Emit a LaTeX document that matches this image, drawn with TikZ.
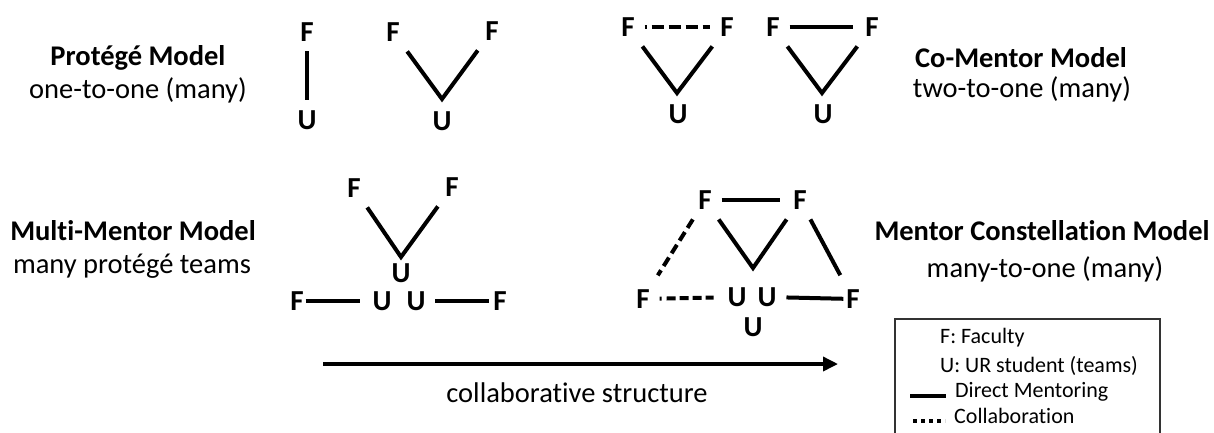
\documentclass[tikz,border=0pt]{standalone}
\usepackage{fontspec}
\setmainfont{Carlito}[Ligatures={NoCommon}]
\usetikzlibrary{arrows.meta}
\begin{document}
\begin{tikzpicture}[x=1pt,y=-1pt,
  letter/.style={font=\fontsize{29}{31}\selectfont\bfseries, inner sep=0pt, outer sep=10pt},
  title/.style={font=\fontsize{28.5}{30}\selectfont\bfseries, anchor=base, inner sep=0pt},
  sub/.style={font=\fontsize{28.5}{30}\selectfont, anchor=base, inner sep=0pt},
  legtext/.style={font=\fontsize{22}{24}\selectfont, anchor=base west, inner sep=0pt},
  mentor/.style={line width=4pt},
  collab/.style={line width=4pt, dash pattern=on 10pt off 5pt},
]
\useasboundingbox (0,0) rectangle (1214,432);

% ---------- Protege model ----------
\node[title] (pt) at (138,65) {Protégé Model};
\node[sub] (ps) at (138,98) {one-to-one (many)};
\node[letter] (a1) at (307,32) {F};
\node[letter] (a2) at (307,120) {U};
\draw[mentor] (a1) -- (a2);
\node[letter] (b1) at (393,32) {F};
\node[letter] (b2) at (492,31) {F};
\node[letter] (b3) at (442,121) {U};
\coordinate (bA) at (442,99);
\draw[mentor] (b1) -- (bA) -- (b2);

% ---------- Co-mentor model ----------
\node[letter] (c1) at (628,27) {F};
\node[letter] (c2) at (727,27) {F};
\node[letter] (c3) at (678,114) {U};
\coordinate (cA) at (677,93);
\draw[mentor] (c1) -- (cA) -- (c2);
\draw[line width=4pt, dash pattern=on 2pt off 5pt on 12pt off 5pt on 12pt off 5pt on 12pt off 5pt on 12pt off 20pt] (c1) -- (c2);
\node[letter] (d1) at (773,27) {F};
\node[letter] (d2) at (872,27) {F};
\node[letter] (d3) at (823,114) {U};
\coordinate (dA) at (822,93);
\draw[mentor] (d1) -- (dA) -- (d2);
\draw[mentor, shorten >=2pt] (d1) -- (d2);
\node[title] (ct) at (1021,67) {Co-Mentor Model};
\node[sub] (cs) at (1022,97) {two-to-one (many)};

% ---------- Multi-mentor model ----------
\node[title] (mt) at (133,240) {Multi-Mentor Model};
\node[sub] (ms) at (132,273) {many protégé teams};
\node[letter] (m1) at (354,188) {F};
\node[letter] (m2) at (452,187) {F};
\node[letter] (m3) at (401,273) {U};
\coordinate (mA) at (401,257);
\draw[mentor] (m1) -- (mA) -- (m2);
\node[letter] (m4) at (297,301) {F};
\node[letter] (m5) at (382,301) {U};
\node[letter] (m6) at (416,301) {U};
\node[letter] (m7) at (500,301) {F};
\draw[mentor, shorten <=-8pt, shorten >=3pt] (m4) -- (m5);
\draw[mentor, shorten >=-6pt] (m6) -- (m7);

% ---------- Mentor constellation model ----------
\node[letter] (e1) at (705,200) {F};
\node[letter] (e2) at (800,200) {F};
\node[letter] (e3) at (737,297) {U};
\node[letter] (e4) at (767,297) {U};
\node[letter] (e5) at (753,327) {U};
\node[letter] (e6) at (643,299) {F};
\node[letter] (e7) at (853,299) {F};
\coordinate (eA) at (753,268);
\draw[mentor] (e1) -- (eA) -- (e2);
\draw[mentor, shorten >=3pt] (e1) -- (e2);
\draw[collab, shorten >=5pt] (e1) -- (e6);
\draw[line width=4pt, dash pattern=on 2pt off 5pt on 9pt off 4pt on 9pt off 4pt on 9pt off 4pt on 9pt off 4pt on 9pt off 20pt, shorten >=4pt] (e6) -- (e3);
\draw[mentor, shorten >=-7pt] (e4) -- (e7);
\draw[mentor, shorten >=5pt] (e2) -- (e7);
\node[title] (kt) at (1042,240) {Mentor Constellation Model};
\node[sub] (ks) at (1045,277) {many-to-one (many)};

% ---------- Arrow ----------
\coordinate (ar0) at (323,364);
\coordinate (ar1) at (838,364);
\draw[line width=3.5pt, -{Triangle[length=15pt,width=14pt]}] (ar0) -- (ar1);
\node[sub] (at) at (577,402) {collaborative structure};

% ---------- Legend ----------
\coordinate (lg0) at (895,434);
\coordinate (lg1) at (895,319);
\coordinate (lg2) at (1160,319);
\coordinate (lg3) at (1160,434);
\draw[line width=1.2pt, black!80] (lg0) -- (lg1) -- (lg2) -- (lg3);
\node[legtext] (l1) at (940,343) {F: Faculty};
\node[legtext] (l2) at (940,372) {U: UR student (teams)};
\node[legtext] (l3) at (955,397) {Direct Mentoring};
\node[legtext] (l4) at (954,423) {Collaboration};
\coordinate (s0) at (910,396);
\coordinate (s1) at (946,396);
\draw[line width=4pt] (s0) -- (s1);
\coordinate (t0) at (913,421);
\coordinate (t1) at (945,421);
\draw[line width=4pt, dash pattern=on 4pt off 4pt] (t0) -- (t1);
\end{tikzpicture}
\end{document}
